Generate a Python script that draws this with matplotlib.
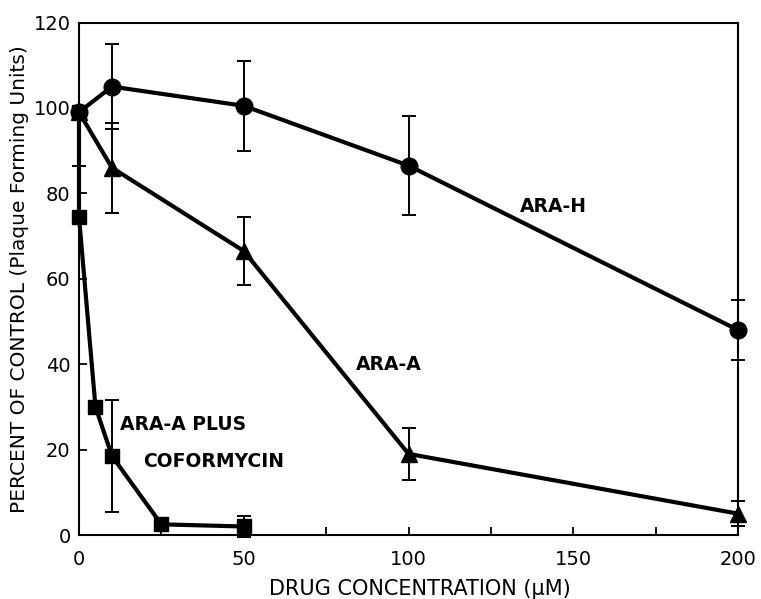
import matplotlib.pyplot as plt
from matplotlib.ticker import MultipleLocator

plt.rcParams['font.family'] = ['DejaVu Sans']

# ARA-H (circles)
arah_x = [0, 10, 50, 100, 200]
arah_y = [99, 105, 100.5, 86.5, 48]
arah_err = [0, 10, 10.5, 11.5, 7]

# ARA-A (triangles)
araa_x = [0, 10, 50, 100, 200]
araa_y = [99, 86, 66.5, 19, 5]
araa_err = [0, 10.5, 8, 6, 3]

# ARA-A plus coformycin (squares)
cof_x = [0, 0, 5, 10, 25, 50]
cof_y = [99, 74.5, 30, 18.5, 2.5, 2]
cof_err_lo = [0, 0, 0, 13, 0, 2.5]
cof_err_hi = [0, 12, 0, 13, 0, 2.5]

xticks = [0, 50, 100, 150, 200]
xticklabels = ['0', '50', '100', '150', '200']
yticks = [0, 20, 40, 60, 80, 100, 120]

fig = plt.figure(figsize=(7.61, 5.99), dpi=100)
ax = fig.add_axes([0.1038, 0.1068, 0.866, 0.8556])

lw = 3.0
common = dict(color='black', lw=lw, elinewidth=1.4, capsize=5, capthick=1.4, clip_on=False)
ax.errorbar(arah_x, arah_y, yerr=arah_err, marker='o', ms=12, zorder=3, **common)
ax.errorbar(araa_x, araa_y, yerr=araa_err, marker='^', ms=12, zorder=3, **common)
ax.errorbar(cof_x, cof_y, yerr=[cof_err_lo, cof_err_hi], marker='s', ms=10, zorder=4, **common)

ax.set_xlim(0, 200)
ax.set_ylim(0, 120)
ax.set_xticks(xticks)
ax.set_xticklabels(xticklabels)
ax.set_yticks(yticks)
ax.xaxis.set_minor_locator(MultipleLocator(25))
ax.tick_params(direction='in', length=6, width=1.3, labelsize=14)
ax.tick_params(axis='x', pad=11)
ax.tick_params(axis='y', pad=6)
ax.tick_params(which='minor', direction='in', length=6, width=1.3)
for s in ax.spines.values():
    s.set_linewidth(1.5)

ax.set_xlabel('DRUG CONCENTRATION (\u03bcM)', fontsize=15)
ax.set_ylabel('PERCENT OF CONTROL (Plaque Forming Units)', fontsize=14.5)
ax.xaxis.set_label_coords(0.517, -0.086)
ax.yaxis.set_label_coords(-0.076, 0.5)

ax.text(144, 77, 'ARA-H', fontsize=13.5, fontweight='bold', ha='center', va='center')
ax.text(94, 40, 'ARA-A', fontsize=13.5, fontweight='bold', ha='center', va='center')
ax.text(12.4, 25.8, 'ARA-A PLUS', fontsize=13.5, fontweight='bold', ha='left', va='center')
ax.text(19.4, 17.1, 'COFORMYCIN', fontsize=13.5, fontweight='bold', ha='left', va='center')

fig.savefig('out.png', dpi=100)
